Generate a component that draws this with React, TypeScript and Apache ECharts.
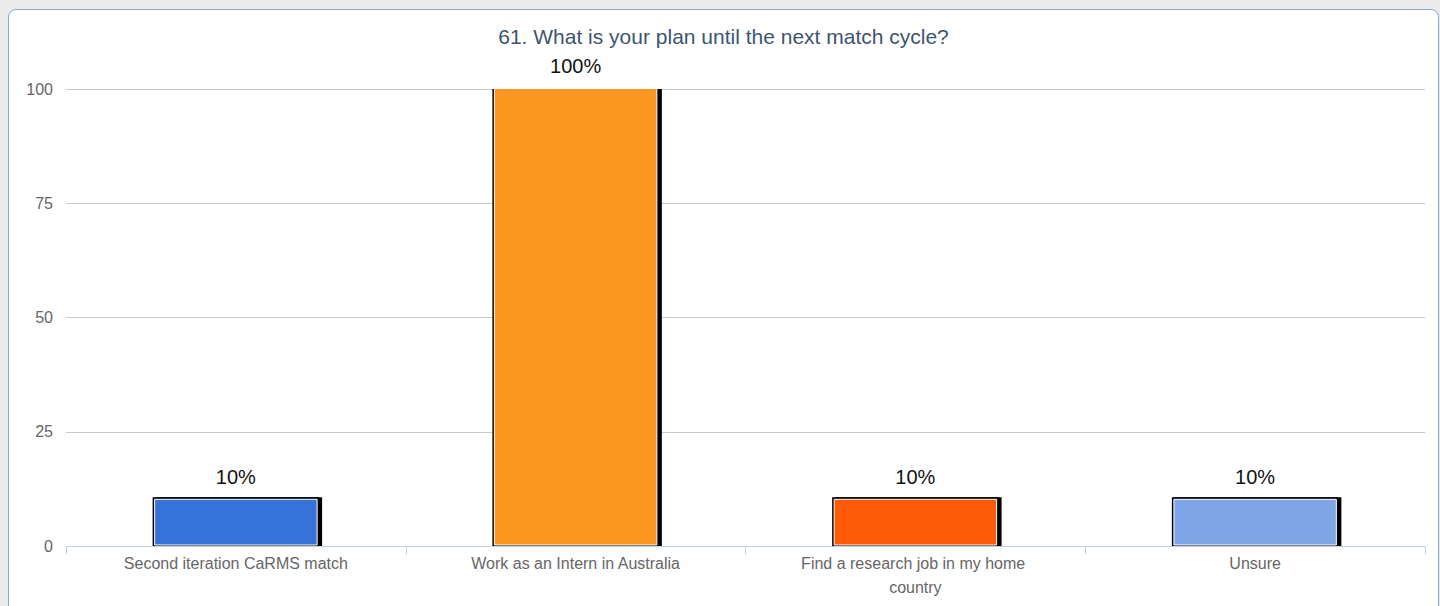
import React, { useEffect, useRef } from "react";
import * as echarts from "echarts";

const categories = [
  "Second iteration CaRMS match",
  "Work as an Intern in Australia",
  "Find a research job in my home country",
  "Unsure",
];
const values = [10, 100, 10, 10];
const barColors = ["#3673d9", "#fb9620", "#fe5a07", "#7fa6e6"];
const yTicks = [0, 25, 50, 75, 100];
const title = "61. What is your plan until the next match cycle?";

export default function App() {
  const ref = useRef<HTMLDivElement>(null);
  useEffect(() => {
    if (!ref.current) return;
    const chart = echarts.init(ref.current, null, { renderer: "svg" });
    chart.setOption({
      animation: false,
      title: {
        text: title,
        left: "center",
        top: 11,
        textStyle: {
          fontFamily: "Liberation Sans",
          fontSize: 21,
          fontWeight: "normal",
          color: "#3d5570",
        },
      },
      grid: { left: 57, right: 13, top: 79, bottom: 60, containLabel: false },
      xAxis: {
        type: "category",
        data: categories,
        boundaryGap: true,
        axisLine: { lineStyle: { color: "#c0d0e0", width: 1 } },
        axisTick: { show: true, alignWithLabel: false, length: 8, lineStyle: { color: "#c0d0e0" } },
        axisLabel: {
          interval: 0,
          color: "#666666",
          fontFamily: "Liberation Sans",
          fontSize: 16,
          margin: 5,
          width: 250,
          overflow: "break",
          lineHeight: 24,
        },
      },
      yAxis: {
        type: "value",
        min: yTicks[0],
        max: yTicks[yTicks.length - 1],
        interval: 25,
        axisLine: { show: false },
        axisTick: { show: false },
        axisLabel: {
          color: "#666666",
          fontFamily: "Liberation Sans",
          fontSize: 16,
          margin: 13,
        },
        splitLine: { lineStyle: { color: "#c8c8c8", width: 1 } },
      },
      series: [
        {
          type: "custom",
          clip: true,
          data: values.map((v, i) => [i, v]),
          encode: { x: 0, y: 1 },
          renderItem: (params: any, api: any) => {
            const idx = api.value(0);
            const val = api.value(1);
            const base = api.coord([idx, 0]);
            const top = api.coord([idx, val]);
            const bandW = api.size([1, 0])[0];
            const w = bandW * 0.49;
            const x = base[0] - w / 2;
            const y = top[1] - 3;
            const h = base[1] - y;
            const color = barColors[params.dataIndex];
            return {
              type: "group",
              children: [
                {
                  type: "rect",
                  shape: { x: x + 3, y: y, width: w, height: h },
                  style: { fill: "#000" },
                },
                {
                  type: "rect",
                  shape: { x: x, y: y, width: w, height: h },
                  style: { fill: "#000" },
                },
                {
                  type: "rect",
                  shape: { x: x + 2, y: y + 2, width: w - 4, height: h - 3 },
                  style: { fill: color, stroke: "#ffffff", lineWidth: 1 },
                },
              ],
            };
          },
        },
        {
          type: "custom",
          clip: false,
          data: values.map((v, i) => [i, v]),
          encode: { x: 0, y: 1 },
          renderItem: (params: any, api: any) => {
            const idx = api.value(0);
            const val = api.value(1);
            const base = api.coord([idx, 0]);
            const top = api.coord([idx, val]);
            return {
              type: "text",
              style: {
                text: val + "%",
                x: base[0],
                y: top[1] - 13,
                textAlign: "center",
                textVerticalAlign: "bottom",
                fill: "#111",
                fontFamily: "Liberation Sans",
                fontSize: 20,
              },
            };
          },
        },
      ],
    });
    return () => chart.dispose();
  }, []);

  return (
    <div
      style={{
        position: "absolute",
        left: 0,
        top: 0,
        width: 1440,
        height: 606,
        background: "#ebebeb",
        overflow: "hidden",
      }}
    >
      <div
        style={{
          position: "absolute",
          left: 8,
          top: 9,
          width: 1429,
          height: 640,
          background: "#ffffff",
          border: "1px solid #8aa6cc",
          borderRadius: "8px 8px 0 0",
          overflow: "hidden",
        }}
      >
        <div ref={ref} style={{ width: 1429, height: 596 }} />
      </div>
    </div>
  );
}
